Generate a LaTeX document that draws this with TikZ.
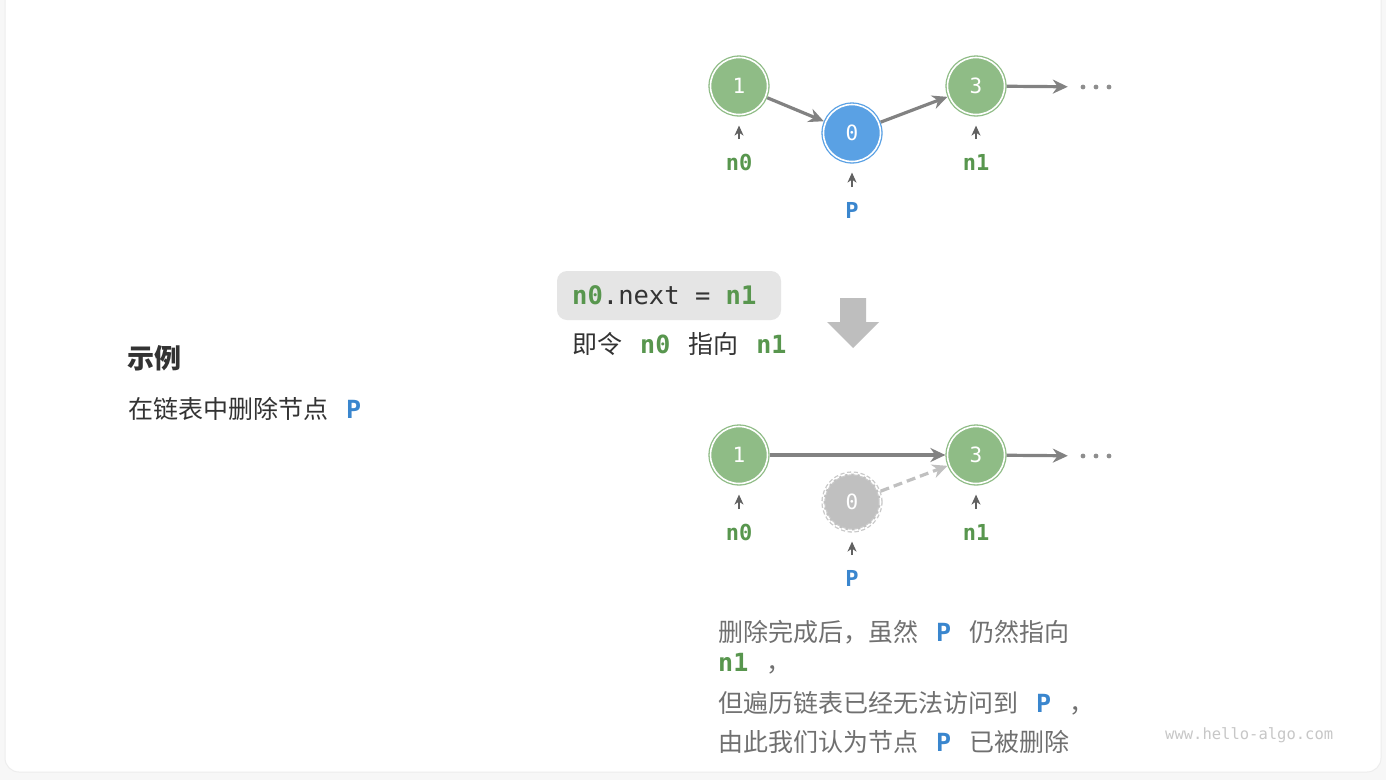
\documentclass[tikz,border=0pt]{standalone}
\usepackage{fontspec}
\setmainfont{Noto Sans CJK SC}
\newfontfamily\mono{DejaVu Sans Mono}
\usetikzlibrary{arrows.meta}
\definecolor{ngreen}{RGB}{143,188,134}
\definecolor{nblue}{RGB}{90,161,228}
\definecolor{ngrey}{RGB}{192,192,192}
\definecolor{tgreen}{RGB}{88,150,78}
\definecolor{tblue}{RGB}{58,134,206}
\definecolor{arrgrey}{RGB}{130,130,130}
\definecolor{darktext}{RGB}{51,51,51}
\definecolor{greytext}{RGB}{112,112,112}
\definecolor{codebg}{RGB}{229,229,229}
\definecolor{bigarr}{RGB}{190,190,190}
\newcommand\gap{\hspace{18pt}}
\newcommand\gn[1]{{\mono\bfseries\color{tgreen}#1}}
\newcommand\bp{{\mono\bfseries\color{tblue}P}}
\tikzset{
  listnode/.style={circle, double=white, double distance=1.6pt, line width=1.3pt,
    minimum size=57pt, inner sep=0pt, outer sep=2.1pt, text=white,
    font=\mono\fontsize{21}{21}\selectfont},
  gnode/.style={listnode, fill=ngreen, draw=ngreen},
  bnode/.style={listnode, fill=nblue, draw=nblue},
  xnode/.style={listnode, fill=ngrey, draw=ngrey!85, dashed, dash pattern=on 4pt off 2.5pt},
  dotsnode/.style={inner sep=0pt, minimum width=56pt, minimum height=10pt},
  dot/.style={fill=arrgrey!90},
  arr/.style={draw=arrgrey, line width=3.2pt, -{Stealth[length=15pt,width=14pt]}},
  arrd/.style={draw=ngrey, line width=3.2pt, dash pattern=on 9pt off 5pt, -{Stealth[length=15pt,width=14pt]}},
  ptr/.style={draw=arrgrey!75!black, line width=1.4pt, -{Stealth[length=10pt,width=9pt,inset=3pt]}},
  glab/.style={inner sep=0pt, text=tgreen, font=\mono\bfseries\fontsize{22}{22}\selectfont},
  blab/.style={inner sep=0pt, text=tblue, font=\mono\bfseries\fontsize{22}{22}\selectfont},
  codebox/.style={fill=codebg, rounded corners=10pt, minimum width=224pt, minimum height=49pt,
    inner sep=0pt, outer sep=0pt},
  codetext/.style={inner sep=0pt, anchor=west, text=darktext, font=\mono\fontsize{25.5}{26}\selectfont},
  body/.style={inner sep=0pt, anchor=west, font=\fontsize{25}{28}\selectfont},
}
\begin{document}
\begin{tikzpicture}[x=1pt,y=-1pt]
\useasboundingbox (0,0) rectangle (1386,780);
\fill[black!3] (0,0) rectangle (1386,780);
\draw[fill=white, draw=black!7, line width=1pt, rounded corners=14pt] (5,-20) rectangle (1381,772);

% ---- top list ----
\node[gnode] (t1) at (739,86) {1};
\node[bnode] (t0) at (852,133) {0};
\node[gnode] (t3) at (976,86) {3};
\node[dotsnode] (td) at (1096,87) {};
\foreach \dx in {-13,0,13} \fill[dot] ([xshift=\dx pt]td.center) circle (2.4pt);
\draw[arr] (t1) -- (t0);
\draw[arr] (t0) -- (t3);
\draw[arr] (t3) -- (td);
\node[glab] (tl0) at (739,162) {n0};
\node[blab] (tlp) at (852,210) {P};
\node[glab] (tl1) at (976,162) {n1};
\draw[ptr] ([yshift=23pt]tl0.center) -- ([yshift=-9pt]t1.south);
\draw[ptr] ([yshift=23pt]tlp.center) -- ([yshift=-9pt]t0.south);
\draw[ptr] ([yshift=23pt]tl1.center) -- ([yshift=-9pt]t3.south);

% ---- middle ----
\node[codebox] (code) at (669,295.5) {};
\node[codetext] (codet) at ([xshift=15pt]code.west) {\gn{n0}.next = \gn{n1}};
\node[body, text=darktext] (expl) at (572,344) {即令\gap\gn{n0}\gap 指向\gap\gn{n1}};
\fill[bigarr] (840,298) -- (866,298) -- (866,322) -- (879,322) -- (853,348) -- (827,322) -- (840,322) -- cycle;

% ---- left ----
\node[body, text=darktext, font=\bfseries\fontsize{27}{30}\selectfont] (title) at (127,358) {示例};
\node[body, text=darktext] (desc) at (128,409) {在链表中删除节点\gap\bp};

% ---- bottom list ----
\node[gnode] (b1) at (739,455) {1};
\node[xnode] (b0) at (852,502) {0};
\node[gnode] (b3) at (976,455) {3};
\node[dotsnode] (bd) at (1096,456) {};
\foreach \dx in {-13,0,13} \fill[dot] ([xshift=\dx pt]bd.center) circle (2.4pt);
\draw[arr] (b1) -- (b3);
\draw[arrd] (b0) -- (b3);
\draw[arr] (b3) -- (bd);
\node[glab] (bl0) at (739,532) {n0};
\node[blab] (blp) at (852,578) {P};
\node[glab] (bl1) at (976,532) {n1};
\draw[ptr] ([yshift=23pt]bl0.center) -- ([yshift=-9pt]b1.south);
\draw[ptr] ([yshift=23pt]blp.center) -- ([yshift=-9pt]b0.south);
\draw[ptr] ([yshift=23pt]bl1.center) -- ([yshift=-9pt]b3.south);

% ---- bottom text ----
\node[body, text=greytext] (s1) at (718,632) {删除完成后，虽然\gap\bp\gap 仍然指向};
\node[body, text=greytext] (s2) at (718,664) {\gn{n1}\gap，};
\node[body, text=greytext] (s3) at (718,703) {但遍历链表已经无法访问到\gap\bp\gap，};
\node[body, text=greytext] (s4) at (718,742) {由此我们认为节点\gap\bp\gap 已被删除};

\node[inner sep=0pt, anchor=west, text=black!22, font=\mono\fontsize{15.5}{16}\selectfont] (wm) at (1165,735) {www.hello-algo.com};
\end{tikzpicture}
\end{document}
